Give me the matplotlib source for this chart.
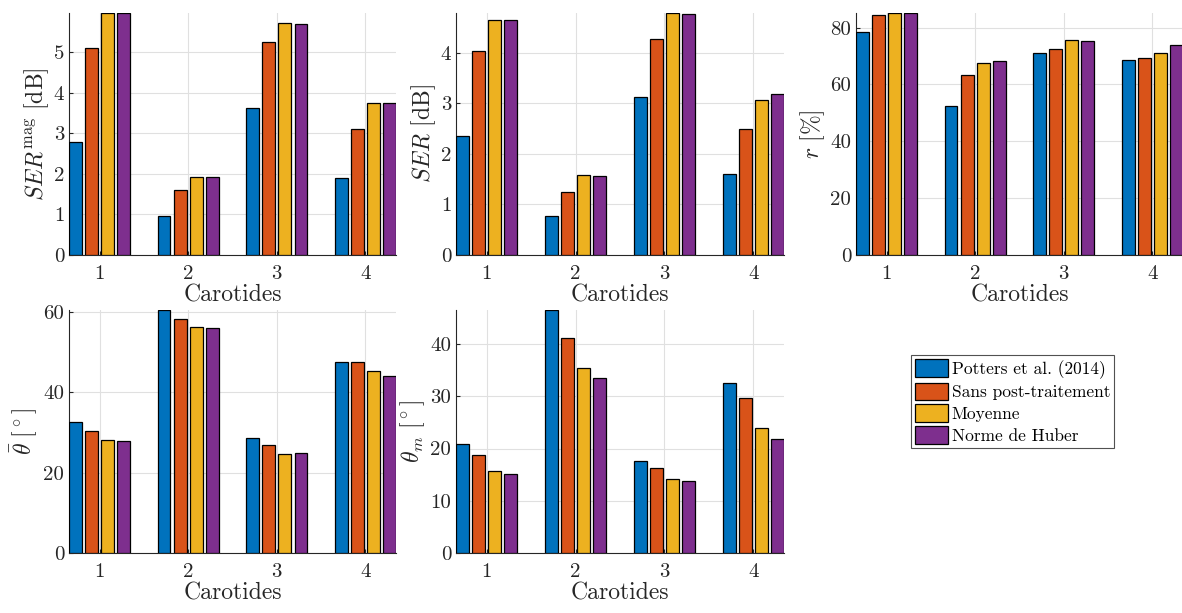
import numpy as np
import matplotlib
matplotlib.use('Agg')
import matplotlib.pyplot as plt

# computer modern look, like the LaTeX/MATLAB export
plt.rcParams['font.family'] = 'serif'
plt.rcParams['font.serif'] = ['cmr10']
plt.rcParams['mathtext.fontset'] = 'cm'
plt.rcParams['axes.unicode_minus'] = False

# data
carotides = [1, 2, 3, 4]
methods = ['Potters et al. (2014)', 'Sans post-traitement', 'Moyenne', 'Norme de Huber']
colors = ['#0072BD', '#D95319', '#EDB120', '#7E2F8E']

ser_mag = [[2.79, 0.97, 3.62, 1.91],
           [5.11, 1.61, 5.26, 3.11],
           [5.97, 1.93, 5.72, 3.74],
           [5.97, 1.92, 5.70, 3.76]]
ser = [[2.36, 0.77, 3.12, 1.61],
       [4.03, 1.24, 4.28, 2.49],
       [4.64, 1.58, 4.79, 3.07],
       [4.64, 1.57, 4.76, 3.18]]
r_pct = [[78.3, 52.3, 71.1, 68.7],
         [84.3, 63.3, 72.4, 69.2],
         [85.0, 67.5, 75.5, 71.2],
         [85.2, 68.3, 75.2, 73.8]]
theta_mean = [[32.5, 60.4, 28.6, 47.6],
              [30.4, 58.1, 26.8, 47.4],
              [28.2, 56.1, 24.7, 45.2],
              [27.9, 55.9, 24.9, 43.9]]
theta_m = [[20.8, 46.5, 17.7, 32.5],
           [18.7, 41.2, 16.2, 29.6],
           [15.7, 35.5, 14.1, 24.0],
           [15.1, 33.5, 13.7, 21.8]]

panels = [
    (ser_mag, r'$SER^{\mathrm{mag}}\ [\mathrm{dB}]$', [0, 1, 2, 3, 4, 5]),
    (ser, r'$SER\ [\mathrm{dB}]$', [0, 1, 2, 3, 4]),
    (r_pct, r'$r\ [\%]$', [0, 20, 40, 60, 80]),
    (theta_mean, r'$\bar{\theta}\ [^\circ]$', [0, 20, 40, 60]),
    (theta_m, r'$\theta_m\ [^\circ]$', [0, 10, 20, 30, 40]),
]

# axes rectangles in figure fraction
rects = [
    [0.0584, 0.584, 0.2766, 0.395],
    [0.3858, 0.584, 0.2775, 0.395],
    [0.7242, 0.584, 0.2766, 0.395],
    [0.0584, 0.098, 0.2766, 0.396],
    [0.3858, 0.098, 0.2775, 0.396],
]

# MATLAB grouped bar geometry
nb = len(methods)
group_w = min(0.8, nb / (nb + 1.5))
step = group_w / nb
bar_w = 0.8 * step
offsets = (np.arange(nb) - (nb - 1) / 2) * step

txt = '#262626'
fig = plt.figure(figsize=(11.82, 6.13), dpi=100)
bars = []
for (vals, ylab, yt), rect in zip(panels, rects):
    ax = fig.add_axes(rect)
    x = np.array(carotides)
    for k in range(nb):
        b = ax.bar(x + offsets[k], vals[k], bar_w, color=colors[k],
                   edgecolor='black', linewidth=0.9, zorder=3, label=methods[k])
        if len(bars) < nb:
            bars.append(b)
    ax.set_xlim(x[0] + offsets[0] - bar_w / 2, x[-1] + offsets[-1] + bar_w / 2)
    ax.set_ylim(0, max(max(v) for v in vals))
    ax.set_xticks(carotides)
    ax.set_yticks(yt)
    ax.grid(True, color='#e0e0e0', linewidth=0.8, zorder=0)
    ax.set_axisbelow(True)
    for s in ['top', 'right']:
        ax.spines[s].set_visible(False)
    for s in ['left', 'bottom']:
        ax.spines[s].set_color(txt)
        ax.spines[s].set_linewidth(0.8)
    ax.tick_params(axis='x', pad=7)
    ax.tick_params(direction='in', length=3, labelsize=15, colors=txt)
    ax.set_xlabel('Carotides', fontsize=17, color=txt, labelpad=1)
    ax.set_ylabel(ylab, fontsize=17, color=txt, labelpad=2)

leg = fig.legend(bars, methods, loc='upper left', bbox_to_anchor=(0.7705, 0.421),
                 fontsize=12.5, frameon=True, fancybox=False, handlelength=1.9,
                 handleheight=1.2, labelspacing=0.22, handletextpad=0.2,
                 borderpad=0.25, borderaxespad=0)
leg.get_frame().set_edgecolor(txt)
leg.get_frame().set_linewidth(0.8)

fig.savefig('out.png', dpi=100)
